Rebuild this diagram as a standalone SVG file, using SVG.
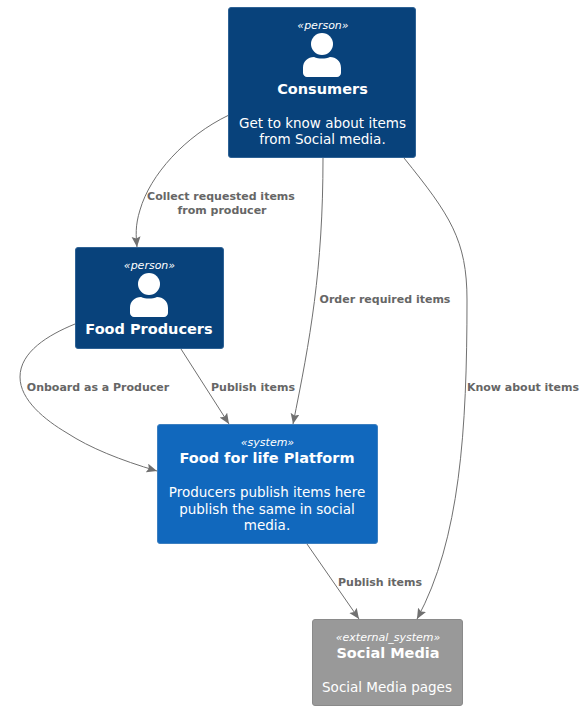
<svg xmlns="http://www.w3.org/2000/svg" width="587" height="710" viewBox="0 0 587 710">
<style>
text{font-family:"DejaVu Sans","Liberation Sans",sans-serif;text-anchor:middle;fill:#fff}
.s{font-size:11px;font-style:italic}
.t{font-size:14.500px;font-weight:bold}
.d{font-size:13.500px}
.l{font-size:11px;font-weight:bold;fill:#666}
.c{fill:none;stroke:#707070;stroke-width:1;marker-end:url(#a)}
.per{fill:#08427b;stroke:#2e6295}
.sys{fill:#1168bd;stroke:#3c7fc0}
.ext{fill:#999;stroke:#8a8a8a}
</style>
<defs>
<marker id="a" markerUnits="userSpaceOnUse" markerWidth="12" markerHeight="10" refX="10.500" refY="4.500" orient="auto"><path d="M0 0L10.500 4.500L0 9L2 4.500Z" fill="#707070"/></marker>
<g id="p" fill="#fff"><circle cx="0" cy="-6" r="11"/><path d="M-19 23V18C-19 11-14 7-8 7C-3 9 3 9 8 7C14 7 19 11 19 18V23C19 25 17 27 15 27H-15C-17 27-19 25-19 23Z"/></g>
</defs>
<g id="connectors">
<path class="c" d="M229 115C185 136 150 175 140 210C135 226 136 236 137 247"/>
<path class="c" d="M323 158C323 270 310 340 293 424"/>
<path class="c" d="M404 158C450 215 467 240 467 300C467 430 460 540 417 619"/>
<path class="c" d="M75 324C48 335 20 352 20 377C20 400 45 420 67 433C90 448 120 460 157 471"/>
<path class="c" d="M181 349L229 424"/>
<path class="c" d="M307 544L359 619"/>
<g>
<text class="l" x="221" y="200">Collect requested items</text>
<text class="l" x="222" y="214">from producer</text>
<text class="l" x="385" y="303">Order required items</text>
<text class="l" x="523" y="391">Know about items</text>
<text class="l" x="98" y="391">Onboard as a Producer</text>
<text class="l" x="253" y="391">Publish items</text>
<text class="l" x="380" y="586">Publish items</text>
</g>
</g>
<g id="consumers">
<rect class="per" x="228.500" y="7.500" width="187" height="150" rx="2.500"/>
<text class="s" x="323" y="29">«person»</text>
<use href="#p" x="322" y="50"/>
<text class="t" x="322.500" y="94">Consumers</text>
<text class="d" x="322.500" y="128">Get to know about items</text>
<text class="d" x="322.500" y="144">from Social media.</text>
</g>
<g id="food-producers">
<rect class="per" x="75.500" y="247.500" width="148" height="101" rx="2.500"/>
<text class="s" x="149.500" y="269">«person»</text>
<use href="#p" x="149" y="290"/>
<text class="t" x="149" y="334">Food Producers</text>
</g>
<g id="platform">
<rect class="sys" x="157.500" y="424.500" width="220" height="119" rx="2.500"/>
<text class="s" x="267.500" y="446">«system»</text>
<text class="t" x="267" y="463">Food for life Platform</text>
<text class="d" x="267" y="497">Producers publish items here</text>
<text class="d" x="267" y="514">publish the same in social</text>
<text class="d" x="267" y="530">media.</text>
</g>
<g id="social-media">
<rect class="ext" x="312.500" y="619.500" width="150" height="86" rx="2.500"/>
<text class="s" x="388" y="641">«external_system»</text>
<text class="t" x="388" y="658">Social Media</text>
<text class="d" x="387" y="692">Social Media pages</text>
</g>
</svg>
